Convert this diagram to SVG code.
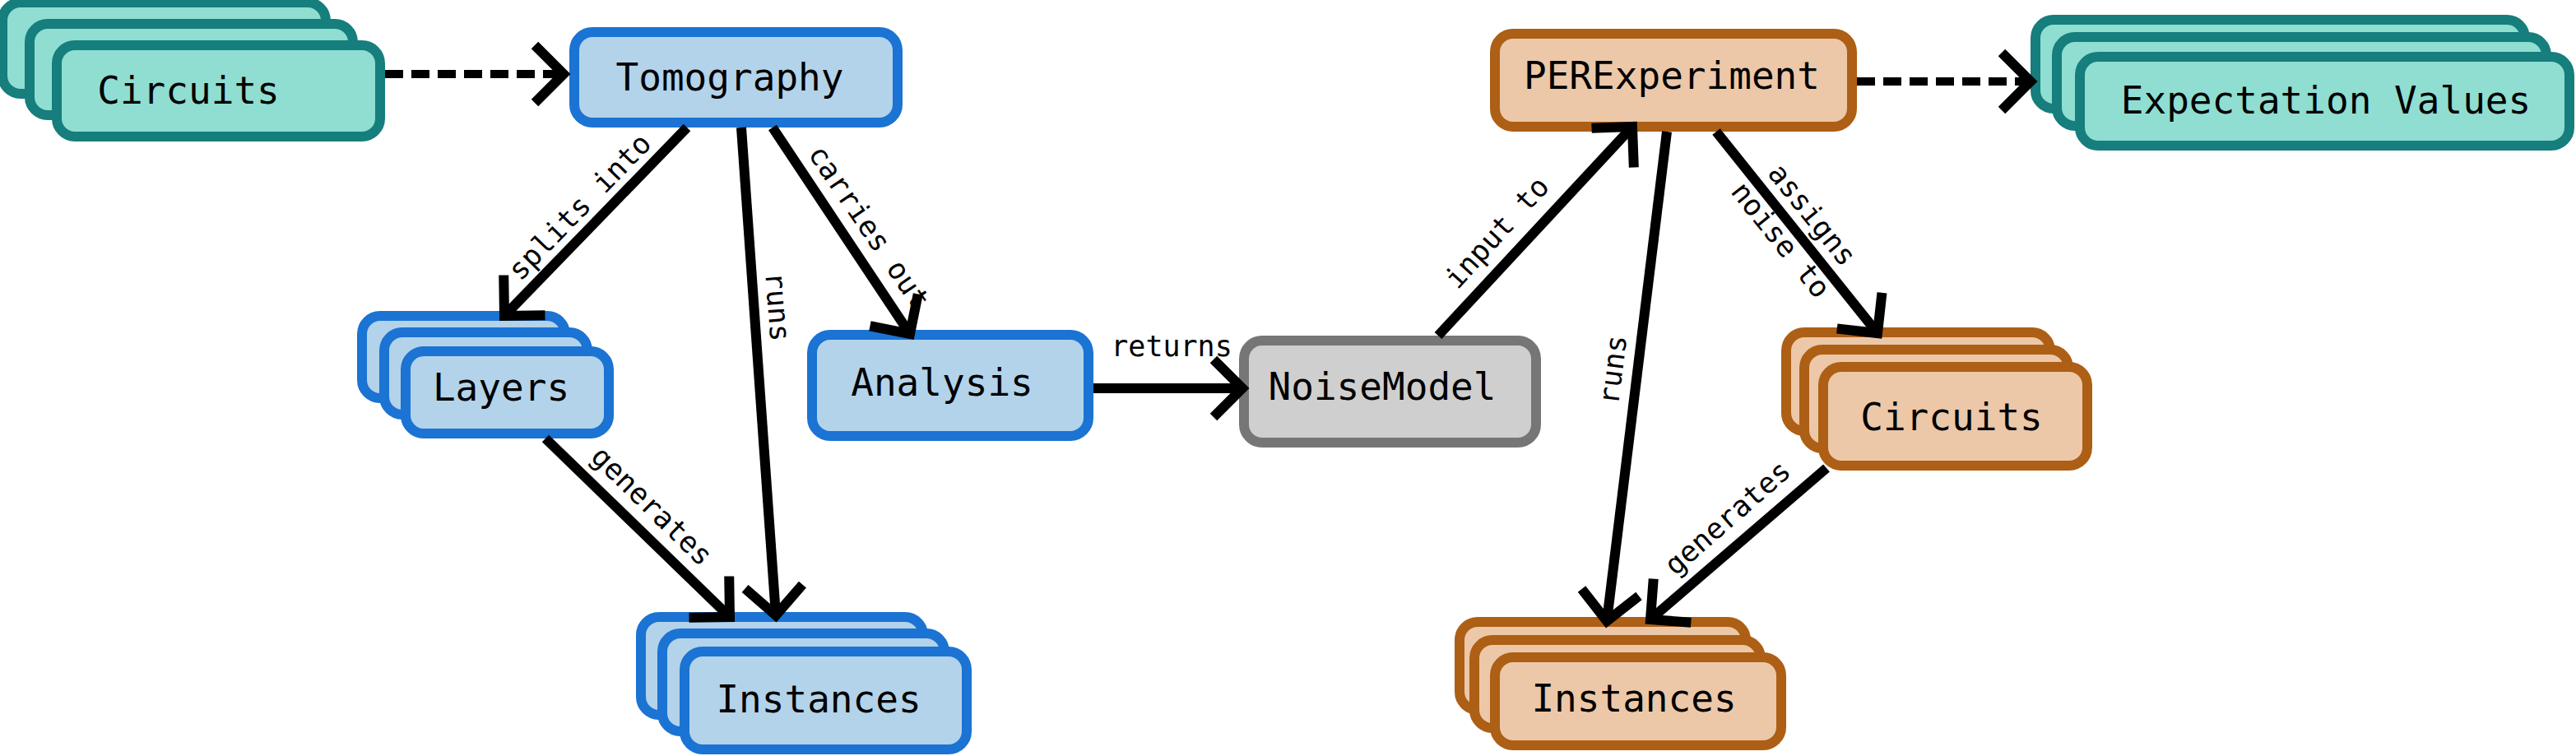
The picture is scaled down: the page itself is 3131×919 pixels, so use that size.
<svg xmlns="http://www.w3.org/2000/svg" width="3131" height="919" viewBox="0 0 3131 919">
<style>
.card{stroke-width:12}
.blue{fill:#b3d3ea;stroke:#1b73d3}
.teal{fill:#8fded1;stroke:#167e7c}
.orange{fill:#ecc8a8;stroke:#ad5f15}
.gray{fill:#cfcfcf;stroke:#767676}
.nt{font-family:"DejaVu Sans Mono","Liberation Mono",monospace;font-size:46px;fill:#000;text-anchor:middle}
.lt{font-family:"DejaVu Sans Mono","Liberation Mono",monospace;font-size:35px;fill:#000;text-anchor:middle}
.edge{fill:none;stroke:#000;stroke-width:12;marker-end:url(#vee)}
.dash{fill:none;stroke:#000;stroke-width:10;stroke-dasharray:22 10;marker-end:url(#vee)}
</style>
<defs>
<marker id="vee" markerUnits="userSpaceOnUse" orient="auto" overflow="visible" markerWidth="1" markerHeight="1" refX="0" refY="0">
<path d="M-35,-35 L0,0 L-35,35" fill="none" stroke="#000" stroke-width="12" stroke-linejoin="miter"/>
</marker>
</defs>
<rect width="3131" height="919" fill="#fff"/>

<g id="circuits-in">
<rect class="card teal" x="3" y="3" width="393" height="111" rx="22"/>
<rect class="card teal" x="36" y="29" width="393" height="111" rx="22"/>
<rect class="card teal" x="69" y="55" width="393" height="111" rx="22"/>
<text class="nt" x="229" y="126">Circuits</text>
</g>

<g id="tomography">
<rect class="card blue" x="698" y="39" width="393" height="110" rx="22"/>
<text class="nt" x="887" y="110">Tomography</text>
</g>

<g id="layers">
<rect class="card blue" x="440" y="384" width="247" height="100" rx="22"/>
<rect class="card blue" x="467" y="404" width="247" height="100" rx="22"/>
<rect class="card blue" x="493" y="427" width="247" height="100" rx="22"/>
<text class="nt" x="609" y="487">Layers</text>
</g>

<g id="analysis">
<rect class="card blue" x="987" y="407" width="336" height="123" rx="22"/>
<text class="nt" x="1145" y="481">Analysis</text>
</g>

<g id="instances-tomo">
<rect class="card blue" x="779" y="750" width="343" height="119" rx="22"/>
<rect class="card blue" x="805" y="770" width="343" height="119" rx="22"/>
<rect class="card blue" x="832" y="792" width="343" height="119" rx="22"/>
<text class="nt" x="995" y="866">Instances</text>
</g>

<g id="noisemodel">
<rect class="card gray" x="1512" y="414" width="355" height="124" rx="22"/>
<text class="nt" x="1680" y="486">NoiseModel</text>
</g>

<g id="perexperiment">
<rect class="card orange" x="1817" y="41" width="434" height="113" rx="22"/>
<text class="nt" x="2032" y="108">PERExperiment</text>
</g>

<g id="expectation-values">
<rect class="card teal" x="2474" y="24" width="595" height="108" rx="22"/>
<rect class="card teal" x="2500" y="45" width="595" height="108" rx="22"/>
<rect class="card teal" x="2528" y="69" width="595" height="108" rx="22"/>
<text class="nt" x="2827" y="138">Expectation Values</text>
</g>

<g id="circuits-per">
<rect class="card orange" x="2171" y="404" width="321" height="120" rx="22"/>
<rect class="card orange" x="2193" y="425" width="321" height="120" rx="22"/>
<rect class="card orange" x="2216" y="446" width="321" height="120" rx="22"/>
<text class="nt" x="2372" y="523">Circuits</text>
</g>

<g id="instances-per">
<rect class="card orange" x="1774" y="756" width="348" height="107" rx="22"/>
<rect class="card orange" x="1792" y="778" width="348" height="107" rx="22"/>
<rect class="card orange" x="1817" y="799" width="348" height="107" rx="22"/>
<text class="nt" x="1986" y="865">Instances</text>
</g>

<g id="connectors">
<path class="dash" d="M468,90 L685,90"/>
<path class="dash" d="M2257,99 L2468,99"/>
<path class="edge" d="M835,155 L613,384"/>
<path class="edge" d="M901,155 L943,748"/>
<path class="edge" d="M939,155 L1106,406"/>
<path class="edge" d="M663,533 L887,750"/>
<path class="edge" d="M1329,472 L1510,472"/>
<path class="edge" d="M1748,408 L1984,154"/>
<path class="edge" d="M2026,160 L1953,755"/>
<path class="edge" d="M2086,160 L2282,405"/>
<path class="edge" d="M2220,569 L2006,753"/>

<text class="lt" transform="translate(726,272) rotate(-45.9)" y="-18">splits into</text>
<text class="lt" transform="translate(915.5,375) rotate(85.7)" y="-18">runs</text>
<text class="lt" transform="translate(1030,294) rotate(55.7)" y="-20">carries out</text>
<text class="lt" transform="translate(770,638) rotate(44.4)" y="-20">generates</text>
<text class="lt" x="1424" y="433">returns</text>
<text class="lt" transform="translate(1843,304) rotate(-47.7)" y="-20">input to</text>
<text class="lt" transform="translate(1990,453) rotate(-83)" y="-18">runs</text>
<text class="lt" transform="translate(2122,655) rotate(-41.2)" y="-22">generates</text>
<text class="lt" transform="translate(2184,276) rotate(51.3)"><tspan x="0" y="-12">assigns</tspan><tspan x="0" y="37">noise to</tspan></text>
</g>
</svg>
